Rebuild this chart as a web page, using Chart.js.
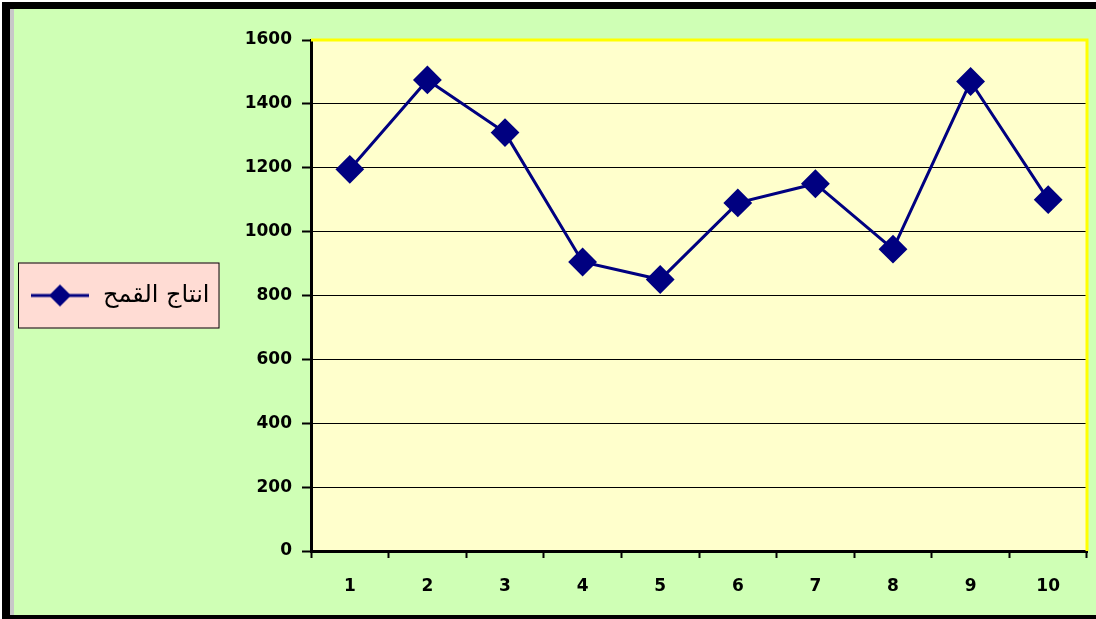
<!DOCTYPE html>
<html>
<head>
<meta charset="utf-8">
<script src="https://cdn.jsdelivr.net/npm/chart.js@4"></script>
<style>
  body { margin: 0; background: #cfffb5; overflow: hidden; }
  canvas { display: block; }
</style>
</head>
<body>
<canvas id="chart" width="1096" height="619"></canvas>
<script>
const years = ['1', '2', '3', '4', '5', '6', '7', '8', '9', '10'];
const wheat = [1195, 1475, 1310, 905, 850, 1090, 1150, 945, 1470, 1100];
const seriesName = 'انتاج القمح';
const yTicks = [0, 200, 400, 600, 800, 1000, 1200, 1400, 1600];

const navy = '#000080';

// legend sample: line with a diamond in the middle
function legendSample() {
    const c = document.createElement('canvas');
    c.width = 58;
    c.height = 24;
    const g = c.getContext('2d');
    g.strokeStyle = navy;
    g.lineWidth = 3;
    g.beginPath();
    g.moveTo(0, 12);
    g.lineTo(58, 12);
    g.stroke();
    g.fillStyle = navy;
    g.beginPath();
    g.moveTo(29, 1);
    g.lineTo(40, 12);
    g.lineTo(29, 23);
    g.lineTo(18, 12);
    g.closePath();
    g.fill();
    return c;
}
const sample = legendSample();

const frame = {
    id: 'frame',
    afterLayout(chart) {
        // centre the legend on the plot area, not on the whole left column
        const lg = chart.legend;
        lg.top = chart.chartArea.top;
        lg.bottom = chart.chartArea.bottom;
        lg.height = lg.bottom - lg.top;
    },
    beforeDraw(chart) {
        const ctx = chart.ctx;
        const a = chart.chartArea;
        const w = chart.width, h = chart.height;
        ctx.save();
        ctx.fillStyle = '#fff';
        ctx.fillRect(0, 0, w, h);
        ctx.fillStyle = '#000';
        ctx.fillRect(2, 2, w - 2, h - 2);
        ctx.fillStyle = '#c8c8c8';
        ctx.fillRect(10, 9, 4, h - 13);
        ctx.fillStyle = '#cfffb5';
        ctx.fillRect(14, 9, w - 14, h - 13);
        ctx.fillStyle = '#ffffcc';
        ctx.fillRect(a.left, a.top, a.right - a.left, a.bottom - a.top);
        const hb = chart.legend.legendHitBoxes[0];
        if (hb) {
            const cy = hb.top + hb.height / 2;
            const x0 = hb.left - 11, x1 = hb.left + hb.width + 10;
            ctx.fillStyle = '#ffdcd4';
            ctx.fillRect(x0, cy - 33, x1 - x0, 66);
            ctx.strokeStyle = '#000';
            ctx.lineWidth = 1;
            ctx.strokeRect(x0 + 0.5, cy - 32.5, x1 - x0 - 1, 65);
        }
        ctx.restore();
    },
    beforeDatasetsDraw(chart) {
        const ctx = chart.ctx;
        const a = chart.chartArea;
        ctx.save();
        ctx.strokeStyle = '#ffff00';
        ctx.lineWidth = 3;
        ctx.beginPath();
        ctx.moveTo(a.left, a.top);
        ctx.lineTo(a.right, a.top);
        ctx.lineTo(a.right, a.bottom);
        ctx.stroke();
        ctx.restore();
    }
};

const tickFont = { family: 'DejaVu Sans', size: 17, weight: 'bold' };

new Chart(document.getElementById('chart'), {
    type: 'line',
    data: {
        labels: years,
        datasets: [{
            label: seriesName,
            data: wheat,
            borderColor: navy,
            backgroundColor: navy,
            borderWidth: 3,
            pointStyle: 'rectRot',
            pointRadius: 13,
            pointBorderWidth: 2,
            pointBackgroundColor: navy,
            pointBorderColor: navy,
            tension: 0,
            clip: false
        }]
    },
    options: {
        responsive: false,
        animation: false,
        layout: { autoPadding: false, padding: { left: 19, right: 9, top: 40, bottom: 8 } },
        plugins: {
            tooltip: { enabled: false },
            legend: {
                position: 'left',
                labels: {
                    usePointStyle: true,
                    pointStyleWidth: 62,
                    color: '#000',
                    font: { family: 'DejaVu Sans', size: 24 },
                    generateLabels: (chart) => [{
                        text: seriesName,
                        pointStyle: sample,
                        fillStyle: navy,
                        strokeStyle: navy,
                        lineWidth: 0,
                        datasetIndex: 0
                    }]
                }
            }
        },
        scales: {
            x: {
                offset: true,
                grid: {
                    offset: true,
                    drawOnChartArea: false,
                    tickLength: 7,
                    tickColor: '#000',
                    tickWidth: 2
                },
                border: { color: '#000', width: 3 },
                ticks: { color: '#000', font: tickFont, padding: 18, maxRotation: 0 },
                afterFit: (scale) => {
                    scale.height = 60;
                    scale.paddingLeft = 0;
                    scale.paddingRight = 0;
                }
            },
            y: {
                min: 0,
                max: 1600,
                afterBuildTicks: (scale) => { scale.ticks = yTicks.map(v => ({ value: v })); },
                grid: {
                    color: (c) => (c.tick && c.tick.value === 1600) ? 'rgba(0,0,0,0)' : '#000',
                    lineWidth: 1,
                    tickLength: 9,
                    tickColor: '#000',
                    tickWidth: 2
                },
                border: { color: '#000', width: 3 },
                ticks: { color: '#000', font: tickFont, padding: 10, callback: (v) => String(v) },
                afterFit: (scale) => {
                    const lw = scale.chart.legend ? scale.chart.legend.width : 200;
                    scale.width = 311 - 19 - lw;
                }
            }
        }
    },
    plugins: [frame]
});
</script>
</body>
</html>
